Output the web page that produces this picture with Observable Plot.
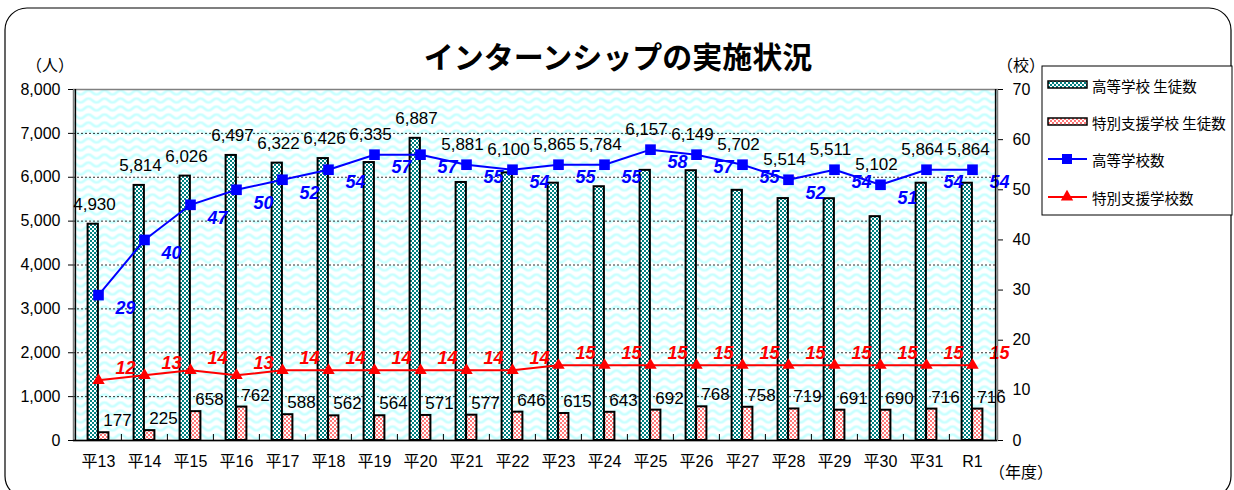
<!DOCTYPE html>
<html>
<head>
<meta charset="utf-8">
<script src="https://cdn.jsdelivr.net/npm/d3@7"></script>
<script src="https://cdn.jsdelivr.net/npm/@observablehq/plot@0.6"></script>
<style>
  html, body { margin: 0; padding: 0; background: #fff; }
  #chart { width: 1234px; height: 490px; overflow: hidden; }
</style>
</head>
<body>
<div id="chart"></div>
<script>
const years = ["平13","平14","平15","平16","平17","平18","平19","平20","平21","平22","平23","平24","平25","平26","平27","平28","平29","平30","平31","R1"];
const hsStudents = [4930,5814,6026,6497,6322,6426,6335,6887,5881,6100,5865,5784,6157,6149,5702,5514,5511,5102,5864,5864];
const ssStudents = [177,225,658,762,588,562,564,571,577,646,615,643,692,768,758,719,691,690,716,716];
const hsSchools = [29,40,47,50,52,54,57,57,55,54,55,55,58,57,55,52,54,51,54,54];
const ssSchools = [12,13,14,13,14,14,14,14,14,14,15,15,15,15,15,15,15,15,15,15];
const leftTicks = [0,1000,2000,3000,4000,5000,6000,7000,8000];
const rightTicks = [0,10,20,30,40,50,60,70];
const leftMax = 8000, rightMax = 70;

const title = "インターンシップの実施状況";
const legendLabels = ["高等学校 生徒数","特別支援学校 生徒数","高等学校数","特別支援学校数"];

const K = leftMax / rightMax;
const table = years.map((year, i) => ({
  year,
  hs: hsStudents[i],
  ss: ssStudents[i],
  hsN: hsSchools[i] * K,
  ssN: ssSchools[i] * K,
  // student-count label sits above whichever is higher: the bar or the school-count marker
  hsLabelY: Math.max(hsStudents[i], hsSchools[i] * K),
  hsNLabel: String(hsSchools[i]),
  ssNLabel: String(ssSchools[i]),
  hsLabel: d3.format(",")(hsStudents[i]),
  ssLabel: String(ssStudents[i])
}));

const W = 1234, H = 490;
const mL = 73, mR = 237, mT = 89, mB = 50;
const bw = (W - mL - mR) / years.length;
const barW = 10.5;
const plotH = H - mT - mB;

const chart = Plot.plot({
  width: W,
  height: H,
  marginLeft: mL, marginRight: mR, marginTop: mT, marginBottom: mB,
  style: { fontFamily: "'Liberation Sans', 'Noto Sans CJK JP', sans-serif", fontSize: "16px", color: "#000", background: "transparent" },
  x: { type: "band", domain: years, padding: 0 },
  y: { domain: [0, leftMax] },
  marks: [
    Plot.frame({ fill: "url(#wave)", stroke: "#808080", strokeWidth: 1.5 }),
    Plot.ruleY(leftTicks.filter(v => v > 0 && v < leftMax), { stroke: "#333", strokeDasharray: "2,2", strokeWidth: 1 }),
    Plot.ruleX(years.slice(1), { x: d => d, dx: -bw / 2, insetTop: plotH - 6, stroke: "#000", strokeWidth: 1 }),
    Plot.barY(table, { x: "year", y: "hs", fill: "url(#chkG)", stroke: "#000", strokeWidth: 2, insetLeft: bw / 2 - barW, insetRight: bw / 2 }),
    Plot.barY(table, { x: "year", y: "ss", fill: "url(#chkP)", stroke: "#000", strokeWidth: 2, insetLeft: bw / 2, insetRight: bw / 2 - barW }),
    Plot.line(table, { x: "year", y: "ssN", stroke: "#ff0000", strokeWidth: 2 }),
    Plot.dot(table, { x: "year", y: "ssN", symbol: "triangle", r: 4.6, fill: "#ff0000", stroke: "none" }),
    Plot.line(table, { x: "year", y: "hsN", stroke: "#0000ff", strokeWidth: 2 }),
    Plot.dot(table, { x: "year", y: "hsN", symbol: "square", r: 6, fill: "#0000ff", stroke: "none" }),
    Plot.text(table, { x: "year", y: "hsLabelY", text: "hsLabel", dx: -4, dy: -20, fontSize: 17, fill: "#000" }),
    Plot.text(table, { x: "year", y: "ss", text: "ssLabel", dx: 19, dy: -12, fontSize: 17, fill: "#000" }),
    Plot.text(table, { x: "year", y: "hsN", text: "hsNLabel", dx: 27, dy: 13, fontSize: 18, fontWeight: "bold", fontStyle: "italic", fill: "#0000ff" }),
    Plot.text(table, { x: "year", y: "ssN", text: "ssNLabel", dx: 27, dy: -12, fontSize: 18, fontWeight: "bold", fontStyle: "italic", fill: "#ff0000" }),
    Plot.ruleX([years[0]], { x: d => d, dx: -bw / 2, stroke: "#000", strokeWidth: 1.5 }),
    Plot.ruleX([years[years.length - 1]], { x: d => d, dx: bw / 2, stroke: "#000", strokeWidth: 1.5 }),
    Plot.ruleY([0], { stroke: "#000", strokeWidth: 1.5 }),
    Plot.axisY({ anchor: "left", ticks: leftTicks, tickFormat: d3.format(","), tickSize: 5, tickPadding: 8, fontSize: 16, label: null }),
    Plot.axisY({ anchor: "right", ticks: rightTicks.map(v => v * K), tickFormat: v => String(Math.round(v / K)), tickSize: 5, tickPadding: 10, fontSize: 16, label: null }),
    Plot.axisX({ tickSize: 0, tickPadding: 15, fontSize: 16, label: null })
  ]
});

document.getElementById("chart").appendChild(chart);

const svg = d3.select(chart);
const defs = svg.insert("defs", ":first-child");
const wave = defs.append("pattern").attr("id", "wave").attr("patternUnits", "userSpaceOnUse").attr("width", 16).attr("height", 8);
wave.append("rect").attr("width", 16).attr("height", 8).attr("fill", "#ffffff");
wave.append("path").attr("d", "M0,6 C4,6 4,2 8,2 C12,2 12,6 16,6").attr("fill", "none").attr("stroke", "#c8ffff").attr("stroke-width", 2.6);

function checker(id, color) {
  const p = defs.append("pattern").attr("id", id).attr("patternUnits", "userSpaceOnUse").attr("width", 4).attr("height", 4);
  p.append("rect").attr("width", 4).attr("height", 4).attr("fill", color);
  p.append("rect").attr("width", 2).attr("height", 2).attr("fill", "#fff");
  p.append("rect").attr("x", 2).attr("y", 2).attr("width", 2).attr("height", 2).attr("fill", "#fff");
}
checker("chkG", "#008080");
checker("chkP", "#ff7878");

// outer rounded border
svg.append("rect").attr("x", 5).attr("y", 8).attr("width", 1226).attr("height", 490).attr("rx", 22)
  .attr("fill", "none").attr("stroke", "#000").attr("stroke-width", 1.2);

const cjk = "'Noto Sans CJK JP', sans-serif";
function label(x, y, t, size, weight, anchor) {
  svg.append("text").attr("x", x).attr("y", y).attr("text-anchor", anchor || "middle").attr("dominant-baseline", "central")
    .attr("font-family", cjk).attr("font-weight", weight || 400).attr("font-size", size).attr("fill", "#000").text(t);
}
label(618, 55, title, 30, 700);
label(50, 64, "（人）", 16);
label(1021, 64, "（校）", 16);
label(1021, 471, "（年度）", 16);

// legend
const lg = svg.append("g");
lg.append("rect").attr("x", 1042).attr("y", 66).attr("width", 190).attr("height", 149).attr("fill", "#fff").attr("stroke", "#000").attr("stroke-width", 1);
const rows = [85, 122, 159, 197];
lg.append("rect").attr("x", 1048).attr("y", rows[0] - 4).attr("width", 39).attr("height", 7).attr("fill", "url(#chkG)").attr("stroke", "#000").attr("stroke-width", 1.5);
lg.append("rect").attr("x", 1048).attr("y", rows[1] - 4).attr("width", 39).attr("height", 7).attr("fill", "url(#chkP)").attr("stroke", "#000").attr("stroke-width", 1.5);
lg.append("line").attr("x1", 1048).attr("x2", 1087).attr("y1", rows[2]).attr("y2", rows[2]).attr("stroke", "#0000ff").attr("stroke-width", 2);
lg.append("rect").attr("x", 1062).attr("y", rows[2] - 5).attr("width", 10).attr("height", 10).attr("fill", "#0000ff");
lg.append("line").attr("x1", 1048).attr("x2", 1087).attr("y1", rows[3]).attr("y2", rows[3]).attr("stroke", "#ff0000").attr("stroke-width", 2);
lg.append("path").attr("d", d3.symbol(d3.symbolTriangle, Math.PI * 4.6 * 4.6)()).attr("transform", `translate(1067,${rows[3]})`).attr("fill", "#ff0000");
legendLabels.forEach((t, i) => {
  lg.append("text").attr("x", 1092).attr("y", rows[i]).attr("text-anchor", "start").attr("dominant-baseline", "central")
    .attr("font-family", cjk).attr("font-size", 14.5).attr("fill", "#000").text(t);
});
</script>
</body>
</html>
